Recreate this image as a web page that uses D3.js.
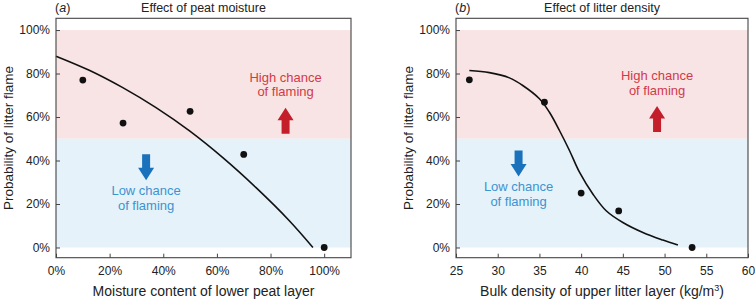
<!DOCTYPE html>
<html lang="en">
<head>
    <meta charset="UTF-8">
    <title>Litter flame probability</title>
    <script src="https://d3js.org/d3.v7.min.js"></script>
    <style>
        body {margin: 0; background: white;}
        text {font-family: "Liberation Sans", Arial, sans-serif; fill: #222;}
    </style>
</head>
<body>
<script>
    const width = 755;
    const height = 301;

    // panel (a): peat moisture (%) vs probability (%)
    const moistureObs = [10, 25, 50, 70, 100];
    const moistureProb = [77, 57.2, 62.6, 42.8, 0];
    const moistureFitX = [0, 12.4, 24.9, 37.3, 49.8, 62.2, 74.6, 87, 95.8];
    const moistureFitY = [88, 81.5, 73.5, 64.3, 53.6, 41.3, 27.5, 12.3, 0];
    const moistureTicks = [0, 20, 40, 60, 80, 100];

    // panel (b): litter bulk density (kg/m3) vs probability (%)
    const densityObs = [26.6, 35.6, 40, 44.5, 53.3];
    const densityProb = [77.1, 66.8, 25, 16.8, 0];
    const densityFitX = [26.6, 29, 31.4, 33, 35, 36.2, 37.4, 38.6, 39.8, 41.4, 43, 45, 47.4, 49.8, 51.6];
    const densityFitY = [81.4, 80.4, 78, 74.5, 68.4, 62.2, 53.8, 44.6, 34.6, 24.6, 16.9, 11.5, 6.9, 3.4, 1.1];
    const densityTicks = [25, 30, 35, 40, 45, 50, 55, 60];

    const probTicks = [0, 20, 40, 60, 80, 100];

    const svg = d3.select("body").append("svg")
            .attr("width", width).attr("height", height);

    const panels = [
        {
            letter: "a", title: "Effect of peat moisture",
            xTitle: "Moisture content of lower peat layer",
            left: 56, right: 351, xDomain: [0, 110],
            xTicks: moistureTicks, xFormat: d => d + "%",
            obsX: moistureObs, obsY: moistureProb,
            fitX: moistureFitX, fitY: moistureFitY,
            high: [85.6, 76.2], low: [33.6, 24]
        },
        {
            letter: "b", title: "Effect of litter density",
            xTitle: "Bulk density of upper litter layer (kg/m",
            left: 456, right: 748, xDomain: [25, 60],
            xTicks: densityTicks, xFormat: d => d,
            obsX: densityObs, obsY: densityProb,
            fitX: densityFitX, fitY: densityFitY,
            high: [49.1, 77], low: [32.5, 25.8]
        }
    ];

    const y = d3.scaleLinear().domain([-4.7, 105.4]).range([257.7, 18.3]);

    panels.forEach(drawPanel);

    function drawPanel(p) {
        const x = d3.scaleLinear().domain(p.xDomain).range([p.left, p.right]);
        const g = svg.append("g");
        const x0 = x(p.xDomain[0]), x1 = x(p.xDomain[1]);

        // background bands
        g.append("rect")
                .attr("x", x0).attr("width", x1 - x0)
                .attr("y", y(100)).attr("height", y(50) - y(100))
                .style("fill", "#f8e4e5");
        g.append("rect")
                .attr("x", x0).attr("width", x1 - x0)
                .attr("y", y(50)).attr("height", y(0) - y(50))
                .style("fill", "#e5f2f9");

        // annotations
        const hx = x(p.high[0]), hy = y(p.high[1]);
        g.append("text")
                .attr("x", hx).attr("y", hy)
                .attr("text-anchor", "middle")
                .style("font-size", "13px").style("fill", "#d23a47")
                .selectAll("tspan").data(["High chance", "of flaming"]).join("tspan")
                .attr("x", hx).attr("dy", (d, i) => i ? 14.5 : 0).text(d => d);
        arrow(g, hx, hy + 52, -1, "#c41e2b");

        const lx = x(p.low[0]), ly = y(p.low[1]);
        g.append("text")
                .attr("x", lx).attr("y", ly)
                .attr("text-anchor", "middle")
                .style("font-size", "13px").style("fill", "#3d93d0")
                .selectAll("tspan").data(["Low chance", "of flaming"]).join("tspan")
                .attr("x", lx).attr("dy", (d, i) => i ? 14.5 : 0).text(d => d);
        arrow(g, lx, ly - 41, 1, "#1b72bc");

        // fitted curve
        const line = d3.line()
                .x(i => x(p.fitX[i]))
                .y(i => y(p.fitY[i]))
                .curve(d3.curveCatmullRom);
        g.append("path")
                .datum(d3.range(p.fitX.length))
                .attr("d", line)
                .style("fill", "none")
                .style("stroke", "#111")
                .style("stroke-width", 1.6);

        // observations
        g.selectAll("circle.obs")
                .data(d3.range(p.obsX.length))
                .join("circle")
                .attr("class", "obs")
                .attr("cx", i => x(p.obsX[i]))
                .attr("cy", i => y(p.obsY[i]))
                .attr("r", 3.4)
                .style("fill", "#111");

        // axes, ticks inward
        g.append("g")
                .attr("transform", `translate(0,${y.range()[0]})`)
                .call(d3.axisBottom(x).tickValues(p.xTicks).tickFormat(p.xFormat)
                        .tickSizeInner(-4).tickSizeOuter(0).tickPadding(9))
                .call(styleAxis);
        g.append("g")
                .attr("transform", `translate(${x0},0)`)
                .call(d3.axisLeft(y).tickValues(probTicks).tickFormat(d => d + "%")
                        .tickSizeInner(-4).tickSizeOuter(0).tickPadding(6))
                .call(styleAxis);

        // frame
        g.append("rect")
                .attr("x", x0).attr("y", y.range()[1])
                .attr("width", x1 - x0).attr("height", y.range()[0] - y.range()[1])
                .style("fill", "none").style("stroke", "#444").style("stroke-width", 1.1);

        // titles
        const t = g.append("text")
                .attr("x", x0 - 1).attr("y", 11.5)
                .style("font-size", "12.5px");
        t.append("tspan").text("(");
        t.append("tspan").style("font-style", "italic").text(p.letter);
        t.append("tspan").text(")");

        g.append("text")
                .attr("x", (x0 + x1) / 2).attr("y", 11.5)
                .attr("text-anchor", "middle")
                .style("font-size", "12.5px")
                .text(p.title);

        const xt = g.append("text")
                .attr("x", (x0 + x1) / 2).attr("y", 296)
                .attr("text-anchor", "middle")
                .style("font-size", "14px")
                .text(p.xTitle);
        if (p.letter === "b") {
            xt.append("tspan").attr("dy", -5).style("font-size", "9px").text("3");
            xt.append("tspan").attr("dy", 5).text(")");
        }

        g.append("text")
                .attr("transform", `translate(${x0 - 43.5},${(y.range()[0] + y.range()[1]) / 2}) rotate(-90)`)
                .attr("text-anchor", "middle")
                .style("font-size", "13.5px")
                .text("Probability of litter flame");
    }

    function styleAxis(sel) {
        sel.select(".domain").remove();
        sel.selectAll(".tick line").style("stroke", "#444");
        sel.selectAll(".tick text")
                .style("font-size", "12px")
                .style("fill", "#222")
                .style("font-family", '"Liberation Sans", Arial, sans-serif');
    }

    // block arrow: dir -1 points up, 1 points down; (cx, cy) is the tail end
    function arrow(g, cx, cy, dir, color) {
        const len = 26, head = 12.5, hw = 8, sw = 4;
        const tip = cy + dir * len, base = tip - dir * head;
        const pts = [
            [cx - sw, cy], [cx - sw, base], [cx - hw, base], [cx, tip],
            [cx + hw, base], [cx + sw, base], [cx + sw, cy]
        ];
        g.append("path")
                .attr("d", d3.line()(pts) + "Z")
                .style("fill", color);
    }
</script>
</body>
</html>
